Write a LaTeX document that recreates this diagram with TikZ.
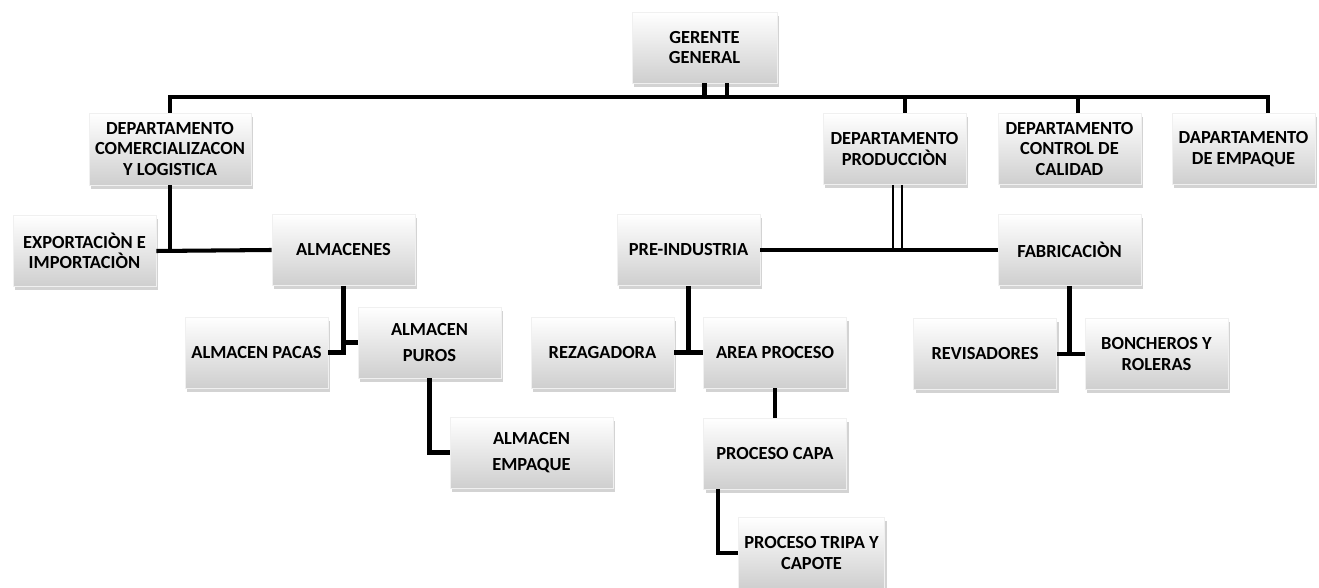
\documentclass[tikz,border=0pt]{standalone}
\usepackage{fontspec}
\setmainfont{Carlito}
\usepackage{tikz}
\usetikzlibrary{shadows, positioning}

\tikzset{
    caja/.style={rectangle, draw=gray!12, minimum width=2.86cm, minimum height=1.42cm,
        top color=white, bottom color=gray!38, align=center,
        font=\fontsize{10.5}{11.6}\selectfont\bfseries,
        drop shadow={shadow xshift=0.4mm, shadow yshift=-0.8mm, opacity=0.35, fill=gray}},
    linea/.style={line width=2.3pt},
    bus/.style={line width=1.8pt}
}

\begin{document}
\begin{tikzpicture}
        \useasboundingbox (0,0) rectangle (26.38,-11.76);

        \node[caja, minimum width=2.9cm] at (14.09,-0.95) (gg) {GERENTE\\GENERAL};

        \node[caja, minimum width=3.12cm, minimum height=1.44cm] at (3.40,-2.98) (dcom) {DEPARTAMENTO\\COMERCIALIZACON\\Y LOGISTICA};
        \node[caja] at (17.89,-2.98) (dprod) {DEPARTAMENTO\\PRODUCCIÒN};
        \node[caja] at (21.39,-2.98) (dcal) {DEPARTAMENTO\\CONTROL DE\\CALIDAD};
        \node[caja] at (24.87,-2.98) (demp) {DAPARTAMENTO\\DE EMPAQUE};

        \node[caja] at (1.69,-5.02) (expo) {EXPORTACIÒN E\\IMPORTACIÒN};
        \node[caja] at (6.87,-5.00) (alma) {ALMACENES};
        \node[caja] at (13.77,-5.00) (pind) {PRE-INDUSTRIA};
        \node[caja] at (21.39,-5.00) (fabr) {FABRICACIÒN};

        \node[caja] at (5.13,-7.05) (paca) {ALMACEN PACAS};
        \node[caja] at (8.59,-6.85) (puro) {ALMACEN\\[3pt]PUROS};
        \node[caja, minimum width=3.26cm] at (10.63,-9.05) (aemp) {ALMACEN\\[3pt]EMPAQUE};

        \node[caja] at (12.05,-7.05) (reza) {REZAGADORA};
        \node[caja] at (15.50,-7.05) (arpr) {AREA PROCESO};
        \node[caja] at (15.50,-9.07) (pcap) {PROCESO CAPA};
        \node[caja] at (16.23,-11.06) (ptri) {PROCESO TRIPA Y\\CAPOTE};

        \node[caja] at (19.70,-7.08) (revi) {REVISADORES};
        \node[caja] at (23.13,-7.08) (bonc) {BONCHEROS Y\\ROLERAS};

        \coordinate (barra) at (0,-1.94);

        % nivel superior
        \draw [bus] (dcom.north) |- ([xshift=4.9mm]demp.north |- barra) -- ([xshift=4.9mm]demp.north);
        \draw [linea] (gg.south) -- (gg.south |- barra);
        \draw [linea] ([xshift=4.5mm]gg.south) -- ([xshift=4.5mm]gg.south |- barra);
        \draw [linea] ([xshift=2.1mm]dprod.north |- barra) -- ([xshift=2.1mm]dprod.north);
        \draw [linea] ([xshift=1.7mm]dcal.north |- barra) -- ([xshift=1.7mm]dcal.north);

        % comercializacion
        \draw [linea] (dcom.south) -- (dcom.south |- expo.east);
        \draw [linea] (expo.east) -- (alma.west);
        \draw [linea] (alma.south) |- (paca.east);
        \draw [linea] (alma.south |- puro.west) -- (puro.west);
        \draw [linea] (puro.south) |- (aemp.west);

        % produccion
        \draw [line width=1.6pt] ([xshift=-0.3mm]dprod.south) -- ([xshift=-0.3mm]dprod.south |- pind.east);
        \draw [line width=1.6pt] ([xshift=1.5mm]dprod.south) -- ([xshift=1.5mm]dprod.south |- pind.east);
        \draw [linea] (pind.east) -- (fabr.west);
        \draw [linea] (pind.south) -- (pind.south |- reza.east);
        \draw [linea] (reza.east) -- (arpr.west);
        \draw [linea] (arpr.south) -- (pcap.north);
        \draw [linea] ([xshift=-11.4mm]pcap.south) |- (ptri.west);
        \draw [linea] (fabr.south) -- (fabr.south |- revi.east);
        \draw [linea] (revi.east) -- (bonc.west);
    \end{tikzpicture}
\end{document}
